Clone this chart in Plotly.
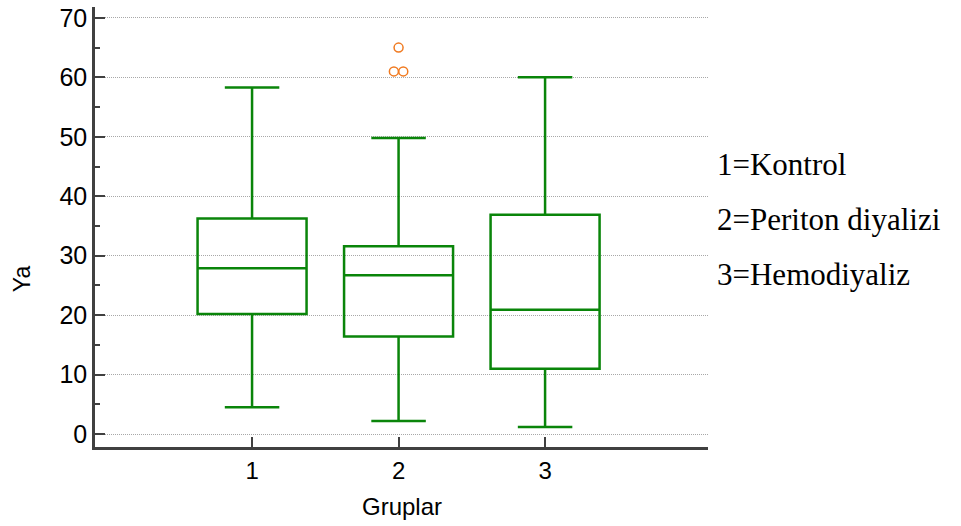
import plotly.graph_objects as go

# ---- data ----
groups = [1, 2, 3]
group_labels = ["1", "2", "3"]
q1 = [20.2, 16.4, 11.0]
median = [27.9, 26.7, 20.9]
q3 = [36.25, 31.6, 36.9]
lower_whisker = [4.5, 2.2, 1.2]
upper_whisker = [58.3, 49.8, 60.0]
outlier_group = [2, 2, 2]
outlier_values = [65.0, 61.0, 61.0]
outlier_offset = [0.0, -0.032, 0.032]  # small horizontal spread of coincident points
legend_lines = ["1=Kontrol", "2=Periton diyalizi", "3=Hemodiyaliz"]
y_ticks = [0, 10, 20, 30, 40, 50, 60, 70]

GREEN = "#0a850a"
ORANGE = "#f07a20"
AXIS = "#404040"
SANS = "Liberation Sans, Arial"
SERIF = "Liberation Serif, Times New Roman"

fig = go.Figure()
for g, a, m, b, lo, hi in zip(groups, q1, median, q3, lower_whisker, upper_whisker):
    fig.add_trace(go.Box(
        x=[g], q1=[a], median=[m], q3=[b], lowerfence=[lo], upperfence=[hi],
        width=0.744, whiskerwidth=0.5, boxpoints=False,
        line=dict(color=GREEN, width=2.5), fillcolor="rgba(0,0,0,0)",
        showlegend=False, hoverinfo="skip",
    ))

fig.add_trace(go.Scatter(
    x=[g + o for g, o in zip(outlier_group, outlier_offset)], y=outlier_values,
    mode="markers",
    marker=dict(symbol="circle-open", size=9, color=ORANGE, line=dict(width=1.5, color=ORANGE)),
    showlegend=False, hoverinfo="skip",
))

annotations = [
    dict(text="Ya", xref="paper", yref="paper", x=-0.119, y=(447 - 278) / 443,
         textangle=-90, showarrow=False, xanchor="center", yanchor="middle",
         font=dict(family=SANS, size=23, color="black")),
    dict(text="Gruplar", xref="paper", yref="paper", x=0.5, y=-0.135,
         showarrow=False, xanchor="center", yanchor="middle",
         font=dict(family=SANS, size=24, color="black")),
]
for i, t in enumerate(legend_lines):
    annotations.append(dict(
        text=t, xref="paper", yref="paper", x=1.0114, y=[0.643, 0.517, 0.393][i],
        showarrow=False, xanchor="left", yanchor="middle",
        font=dict(family=SERIF, size=31, color="black")))

fig.update_layout(
    width=961, height=526,
    margin=dict(l=95, r=253, t=4, b=79),
    paper_bgcolor="white", plot_bgcolor="white",
    annotations=annotations,
    xaxis=dict(
        range=[-0.072, 4.112], tickmode="array", tickvals=groups, ticktext=group_labels,
        ticks="inside", ticklen=10, tickwidth=2, tickcolor=AXIS,
        showline=True, linecolor=AXIS, linewidth=2.5, showgrid=False, zeroline=False,
        tickfont=dict(family=SANS, size=24, color="black"),
    ),
    yaxis=dict(
        range=[-2.17, 71.83], tickmode="array", tickvals=y_ticks,
        ticks="inside", ticklen=10, tickwidth=2, tickcolor=AXIS,
        minor=dict(tickvals=[5, 15, 25, 35, 45, 55, 65], ticks="inside", ticklen=5,
                   tickwidth=1.5, tickcolor=AXIS, showgrid=False),
        showline=True, linecolor=AXIS, linewidth=2.5, zeroline=False,
        showgrid=True, gridcolor="#a8a8a8", gridwidth=1, griddash="1px,1px",
        tickfont=dict(family=SANS, size=25, color="black"),
    ),
)

fig.write_html("out.html")
